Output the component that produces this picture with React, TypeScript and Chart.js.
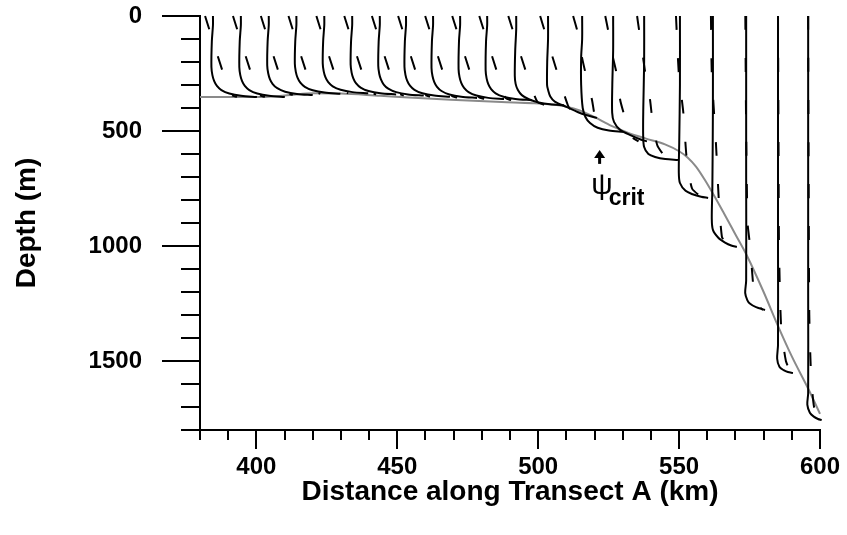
import { useEffect, useRef } from 'react';
import { Chart, registerables } from 'chart.js';

Chart.register(...registerables);

// Axis ticks
const xMajorTicks = [400, 450, 500, 550, 600];
const xMinorTicks = [380, 390, 410, 420, 430, 440, 460, 470, 480, 490, 510, 520, 530, 540, 560, 570, 580, 590];
const yMajorTicks = [0, 500, 1000, 1500];
const yMinorTicks = [100, 200, 300, 400, 600, 700, 800, 900, 1100, 1200, 1300, 1400, 1600, 1700, 1800];

// Station positions along the transect (km)
const stationKm = [
  384.6, 394.5, 404.4, 414.2, 424.1, 434.0, 443.8, 453.1, 462.7, 472.3, 481.9,
  492.2, 503.5, 515.6, 526.6, 537.6, 550.3, 562.0, 573.8, 585.1, 595.8,
];

// Solid profiles per station: [depth (m), displacement from station (km)]
const solidProfiles: number[][][] = [
  [[0, 0], [40, 0], [110, -0.4], [222, -0.55], [257, -0.2], [282, 0.4], [304, 1.4], [322, 3], [337, 5.8], [347, 10], [352, 15.6]],
  [[0, 0], [40, 0], [110, -0.4], [222, -0.55], [257, -0.2], [282, 0.4], [304, 1.4], [322, 3], [337, 5.8], [347, 10], [352, 15.6]],
  [[0, 0], [40, 0], [110, -0.4], [214, -0.55], [249, -0.2], [274, 0.4], [296, 1.4], [314, 3], [329, 5.8], [339, 10], [344, 15.6]],
  [[0, 0], [40, 0], [110, -0.4], [208, -0.55], [243, -0.2], [268, 0.4], [290, 1.4], [308, 3], [323, 5.8], [333, 10], [338, 15.6]],
  [[0, 0], [40, 0], [110, -0.4], [206, -0.55], [241, -0.2], [266, 0.4], [288, 1.4], [306, 3], [321, 5.8], [331, 10], [336, 15.6]],
  [[0, 0], [40, 0], [110, -0.4], [211, -0.55], [246, -0.2], [271, 0.4], [293, 1.4], [311, 3], [326, 5.8], [336, 10], [341, 15.6]],
  [[0, 0], [40, 0], [110, -0.4], [216, -0.55], [251, -0.2], [276, 0.4], [298, 1.4], [316, 3], [331, 5.8], [341, 10], [346, 15.6]],
  [[0, 0], [40, 0], [110, -0.4], [221, -0.55], [256, -0.2], [281, 0.4], [303, 1.4], [321, 3], [336, 5.8], [346, 10], [351, 15.6]],
  [[0, 0], [40, 0], [110, -0.4], [226, -0.55], [261, -0.2], [286, 0.4], [308, 1.4], [326, 3], [341, 5.8], [351, 10], [356, 15.6]],
  [[0, 0], [40, 0], [110, -0.4], [231, -0.55], [266, -0.2], [291, 0.4], [313, 1.4], [331, 3], [346, 5.8], [356, 10], [361, 15.6]],
  [[0, 0], [40, 0], [110, -0.4], [236, -0.55], [271, -0.2], [296, 0.4], [318, 1.4], [336, 3], [351, 5.8], [361, 10], [366, 15.8]],
  [[0, 0], [60, 0], [150, -0.35], [260, -0.5], [295, -0.2], [322, 0.6], [344, 2], [362, 4.5], [376, 8], [384, 12], [388, 17]],
  [[0, 0], [100, 0], [200, -0.3], [300, -0.35], [321, 0], [350, 0.8], [372, 2.4], [396, 6.7], [425, 12], [443, 17.4]],
  [[0, 0], [100, 0], [178, -0.35], [300, -0.35], [400, 0.2], [440, 1.2], [465, 2.8], [486, 5.5], [498, 9.5], [503, 14.5]],
  [[0, 0], [150, 0], [300, -0.3], [420, -0.35], [460, 0.3], [495, 2.5], [520, 6.5], [538, 10], [545, 12]],
  [[0, 0], [200, 0], [400, -0.3], [520, -0.35], [570, 0], [600, 1.5], [613, 3.9], [622, 7.5], [626, 12]],
  [[0, 0], [300, 0], [550, -0.25], [680, -0.4], [726, 0], [760, 2], [775, 4.5], [786, 7.5], [791, 10]],
  [[0, 0], [400, 0], [750, -0.2], [880, -0.4], [930, 0], [965, 2], [985, 4.3], [998, 6.5], [1004, 8.5]],
  [[0, 0], [700, 0], [1150, 0], [1204, -0.35], [1235, 0.4], [1250, 1.3], [1266, 3.5], [1278, 6.7]],
  [[0, 0], [1000, 0], [1430, 0], [1490, -0.3], [1525, 0.5], [1540, 2], [1548, 3.5], [1552, 5.3]],
  [[0, 0], [1200, 0], [1640, 0], [1690, -0.3], [1725, 0.6], [1742, 2], [1752, 3.5], [1757, 4.8]],
];

// Dashed profiles per station: [depth (m), displacement from station (km)]
const dashedProfiles: number[][][] = [
  [[0, -2.8], [243, 3.5], [342, 6.5], [352, 8.5]],
  [[0, -2.8], [243, 3.5], [342, 6.5], [352, 8.5]],
  [[0, -2.8], [243, 3.5], [334, 6.5], [344, 8.5]],
  [[0, -2.8], [243, 3.5], [328, 6.5], [338, 8.5]],
  [[0, -2.8], [243, 3.5], [326, 6.5], [336, 8.5]],
  [[0, -2.8], [243, 3.5], [331, 6.5], [341, 8.5]],
  [[0, -2.8], [243, 3.5], [336, 6.5], [346, 8.5]],
  [[0, -2.8], [243, 3.5], [341, 6.5], [351, 8.5]],
  [[0, -2.8], [243, 3.5], [346, 6.5], [356, 8.5]],
  [[0, -2.8], [243, 3.5], [351, 6.5], [361, 8.5]],
  [[0, -2.8], [243, 3.5], [356, 6.5], [366, 8.5]],
  [[0, -2.8], [243, 3.5], [373, 7.5], [388, 10.5]],
  [[0, -2.8], [243, 3.2], [387, 7], [425, 9], [443, 12.5]],
  [[0, -3.2], [61, -1.8], [183, 0], [243, 1.1], [365, 3.5], [439, 4.6], [490, 7], [503, 10]],
  [[0, -2.8], [61, -1.8], [183, 0], [243, 1.1], [365, 2.5], [430, 3.9], [520, 6], [545, 9]],
  [[0, -2.5], [61, -1.8], [183, -0.35], [243, 0.35], [365, 2.1], [439, 2.8], [560, 4.6], [600, 6.7], [626, 9.5]],
  [[0, -1.4], [250, -0.4], [420, 1.2], [620, 2.4], [750, 4.3], [791, 8]],
  [[0, -0.7], [250, -0.4], [560, 1.1], [800, 2.1], [960, 3.2], [985, 4.5], [1004, 7.5]],
  [[0, -0.3], [500, 0], [900, 0.5], [1000, 1.4], [1170, 2.5], [1250, 3.5], [1278, 6]],
  [[0, 0], [600, 0.2], [1000, 0.35], [1350, 1.1], [1500, 2.8], [1552, 4.6]],
  [[0, 0], [800, 0.2], [1300, 0.4], [1550, 1], [1700, 2.1], [1757, 4.3]],
];

// Critical-slope depth along the transect
const critKm = [380, 403, 412, 420, 430, 444, 469, 487, 498, 505, 510, 515, 520, 526, 532, 538, 545, 550, 553, 556, 559, 562, 566, 570, 574, 580, 585, 590, 596, 600];
const critDepth = [352, 352, 344, 336, 337, 347, 364, 374, 379, 385, 394, 412, 440, 478, 508, 532, 558, 588, 615, 655, 710, 772, 860, 950, 1040, 1200, 1345, 1480, 1625, 1730];

// Marker for the critical-slope label
const labelKm = 521.8;
const arrowTopDepth = 583;
const arrowBottomDepth = 643;
const psiKm = 518.8;
const psiBaseDepth = 775;
const critTextKm = 525.0;
const critBaseDepth = 822;

const FONT = '"Liberation Sans", Arial, Helvetica, sans-serif';

const decorations = {
  id: 'decorations',
  afterDraw(chart: any) {
    const { ctx, chartArea, scales } = chart;
    const x = scales.x;
    const y = scales.y;
    ctx.save();
    ctx.strokeStyle = '#000';
    ctx.lineWidth = 2;
    ctx.beginPath();
    for (const v of yMinorTicks) {
      const py = Math.round(y.getPixelForValue(v));
      ctx.moveTo(chartArea.left - 19, py);
      ctx.lineTo(chartArea.left, py);
    }
    for (const v of xMinorTicks) {
      const px = Math.round(x.getPixelForValue(v));
      ctx.moveTo(px, chartArea.bottom);
      ctx.lineTo(px, chartArea.bottom + 10);
    }
    ctx.stroke();

    // arrow pointing up to the critical-slope curve
    const ax = x.getPixelForValue(labelKm);
    const at = y.getPixelForValue(arrowTopDepth);
    const ab = y.getPixelForValue(arrowBottomDepth);
    ctx.fillStyle = '#000';
    ctx.lineWidth = 3;
    ctx.beginPath();
    ctx.moveTo(ax, at + 6);
    ctx.lineTo(ax, ab);
    ctx.stroke();
    ctx.beginPath();
    ctx.moveTo(ax, at);
    ctx.lineTo(ax - 5.5, at + 8);
    ctx.lineTo(ax + 5.5, at + 8);
    ctx.closePath();
    ctx.fill();

    ctx.textAlign = 'left';
    ctx.textBaseline = 'alphabetic';
    ctx.font = `30px ${FONT}`;
    ctx.fillText('ψ', x.getPixelForValue(psiKm), y.getPixelForValue(psiBaseDepth));
    ctx.font = `bold 23px ${FONT}`;
    ctx.fillText('crit', x.getPixelForValue(critTextKm), y.getPixelForValue(critBaseDepth));
    ctx.restore();
  },
};

export default function App() {
  const ref = useRef<HTMLCanvasElement>(null);

  useEffect(() => {
    const datasets: any[] = [];
    stationKm.forEach((km, i) => {
      datasets.push({
        data: solidProfiles[i].map(([d, o]) => ({ x: km + o, y: d })),
        borderColor: '#000',
        borderWidth: 2,
        tension: 0.3,
        order: 0,
      });
      datasets.push({
        data: dashedProfiles[i].map(([d, o]) => ({ x: km + o, y: d })),
        borderColor: '#000',
        borderWidth: 2,
        borderDash: [14, 28],
        tension: 0.2,
        order: 0,
      });
    });
    datasets.push({
      data: critKm.map((k, i) => ({ x: k, y: critDepth[i] })),
      borderColor: '#8a8a8a',
      borderWidth: 2,
      cubicInterpolationMode: 'monotone',
      order: 1,
    });
    datasets.forEach((d) => {
      d.showLine = true;
      d.pointRadius = 0;
      d.fill = false;
      d.clip = false;
    });

    const tickFont = { family: FONT, size: 24, weight: 'bold' as const };
    const titleFont = { family: FONT, size: 28, weight: 'bold' as const };

    const chart = new Chart(ref.current!, {
      type: 'scatter',
      data: { datasets },
      options: {
        animation: false,
        responsive: false,
        events: [],
        layout: { padding: { top: 16, right: 27, left: 0, bottom: 0 } },
        plugins: { legend: { display: false }, tooltip: { enabled: false } },
        scales: {
          x: {
            type: 'linear',
            position: 'bottom',
            min: 380,
            max: 600,
            afterBuildTicks: (axis: any) => {
              axis.ticks = xMajorTicks.map((v) => ({ value: v }));
            },
            afterFit: (axis: any) => {
              axis.height = 105;
              axis.paddingLeft = 0;
              axis.paddingRight = 0;
            },
            grid: { drawOnChartArea: false, drawTicks: true, tickLength: 19, color: '#000', lineWidth: 2 },
            border: { display: true, color: '#000', width: 2 },
            ticks: {
              font: tickFont,
              color: '#000',
              padding: 4,
              maxRotation: 0,
              callback: (v: any) => String(v),
            },
            title: {
              display: true,
              text: 'Distance along Transect A (km)',
              font: titleFont,
              color: '#000',
              padding: { top: 0, bottom: 26 },
            },
          },
          y: {
            type: 'linear',
            position: 'left',
            reverse: true,
            min: 0,
            max: 1800,
            afterBuildTicks: (axis: any) => {
              axis.ticks = yMajorTicks.map((v) => ({ value: v }));
            },
            afterFit: (axis: any) => {
              axis.width = 200;
              axis.paddingTop = 0;
              axis.paddingBottom = 0;
            },
            grid: { drawOnChartArea: false, drawTicks: true, tickLength: 38, color: '#000', lineWidth: 2 },
            border: { display: true, color: '#000', width: 2 },
            ticks: {
              font: tickFont,
              color: '#000',
              padding: 20,
              callback: (v: any) => String(v),
            },
            title: {
              display: true,
              text: 'Depth (m)',
              font: titleFont,
              color: '#000',
              padding: { top: 10, bottom: 0 },
            },
          },
        },
      },
      plugins: [decorations],
    } as any);
    return () => chart.destroy();
  }, []);

  return (
    <div style={{ position: 'fixed', left: 0, top: 0, width: 847, height: 535, background: '#fff' }}>
      <canvas ref={ref} width={847} height={535} style={{ display: 'block', width: 847, height: 535 }} />
    </div>
  );
}
